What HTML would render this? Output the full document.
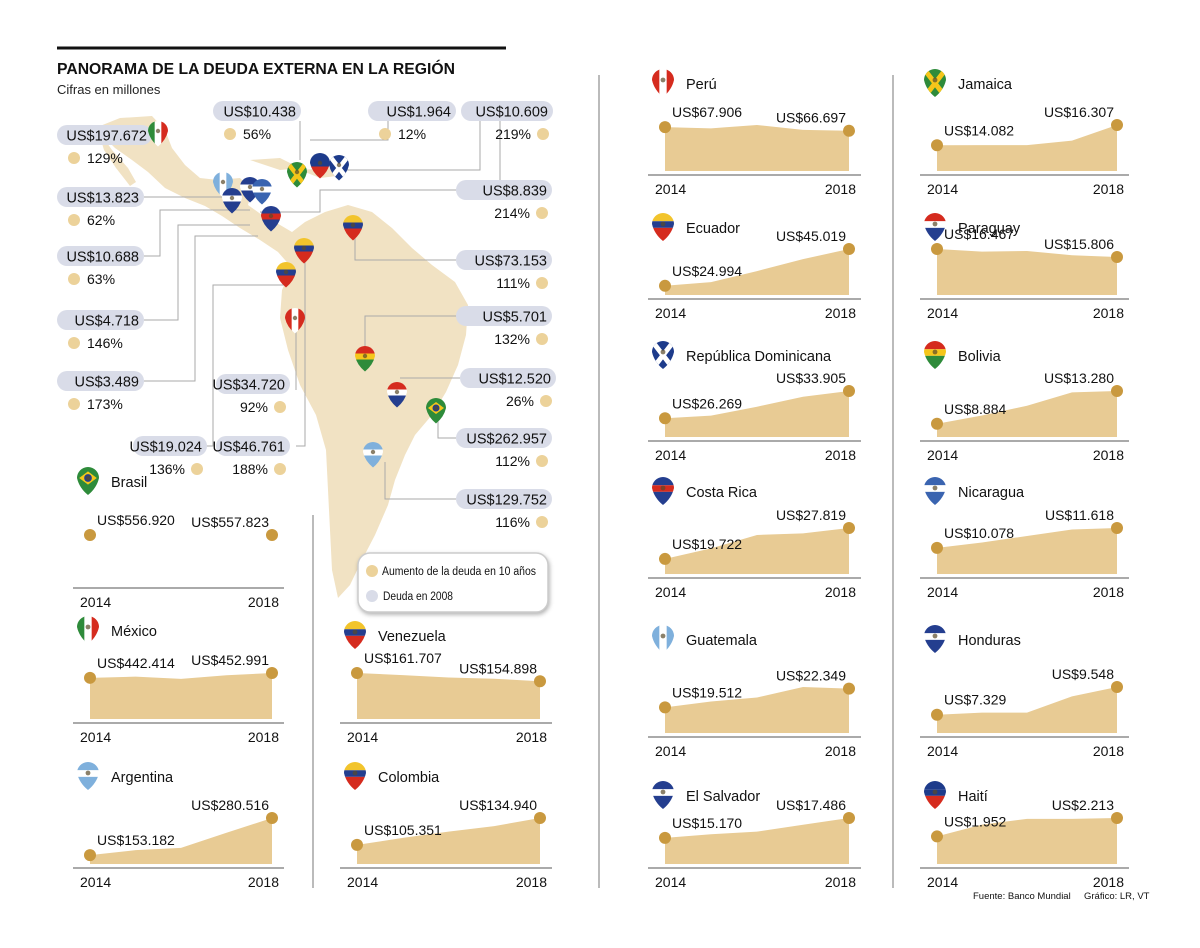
<!DOCTYPE html>
<html><head><meta charset="utf-8">
<style>
body{margin:0;background:#fff;}
svg text{font-family:"Liberation Sans",sans-serif;}
</style></head>
<body>
<svg id="root" width="1200" height="943" viewBox="0 0 1200 943" xmlns="http://www.w3.org/2000/svg">
<rect x="0" y="0" width="1200" height="943" fill="#fff"/>
<line x1="57" y1="48" x2="506" y2="48" stroke="#111" stroke-width="3"/>
<text x="57" y="74" font-size="16" font-weight="bold" fill="#111" textLength="398" lengthAdjust="spacingAndGlyphs">PANORAMA DE LA DEUDA EXTERNA EN LA REGIÓN</text>
<text x="57" y="94" font-size="13" fill="#222">Cifras en millones</text>
<g id="map">
<path fill="#f1e2c3" d="M95,128 L120,118 L152,116 L165,130 L172,148 L185,165 L200,178 L218,180 L240,178 L252,190 L248,205 L262,215 L275,222 L292,232 L305,222 L325,212 L348,205 L372,212 L392,228 L412,248 L432,265 L455,282 L468,305 L466,335 L458,365 L446,392 L432,415 L415,435 L405,455 L395,480 L388,505 L375,535 L362,560 L350,585 L338,598 L332,570 L330,530 L328,490 L326,450 L316,415 L300,385 L288,350 L280,318 L282,290 L292,268 L278,252 L260,240 L240,228 L222,216 L205,206 L185,198 L165,188 L148,172 L132,160 L115,148 Z"/>
<path fill="#f1e2c3" d="M98,130 L112,150 L128,168 L136,182 L130,186 L116,168 L104,150 Z"/>
<path fill="#f1e2c3" d="M250,160 L280,158 L300,168 L280,170 Z M300,170 L330,168 L345,175 L320,178 Z"/>
</g>
<g id="callouts"></g>
<g id="flags"></g>
<g id="panels"></g>
<line x1="599" y1="75" x2="599" y2="888" stroke="#777" stroke-width="1"/>
<line x1="893" y1="75" x2="893" y2="888" stroke="#777" stroke-width="1"/>
<line x1="313" y1="515" x2="313" y2="888" stroke="#777" stroke-width="1"/>
<g>
<rect x="358" y="553" width="190" height="59" rx="12" fill="#fff" stroke="#ccc" stroke-width="1.5" style="filter:drop-shadow(1px 2px 2px rgba(0,0,0,0.3))"/>
<circle cx="372" cy="571" r="6" fill="#ecd29a"/>
<text x="382" y="575" font-size="11.5" fill="#111" textLength="154" lengthAdjust="spacingAndGlyphs">Aumento de la deuda en 10 años</text>
<circle cx="372" cy="596" r="6" fill="#d9dce8"/>
<text x="383" y="600" font-size="11.5" fill="#111" textLength="70" lengthAdjust="spacingAndGlyphs">Deuda en 2008</text>
</g>
<text x="973" y="899" font-size="9.5" fill="#111">Fuente: Banco Mundial</text>
<text x="1084" y="899" font-size="9.5" fill="#111">Gráfico: LR, VT</text>
</svg>
<script>
const NS="http://www.w3.org/2000/svg";
function mk(tag,attrs,parent){const e=document.createElementNS(NS,tag);for(const k in attrs)e.setAttribute(k,attrs[k]);parent.appendChild(e);return e;}

// ---- Mini chart data ----
const years=["2014","2015","2016","2017","2018"];
const countries=["Perú","Ecuador","República Dominicana","Costa Rica","Guatemala","El Salvador","Jamaica","Paraguay","Bolivia","Nicaragua","Honduras","Haití","Brasil","México","Argentina","Venezuela","Colombia"];
const seriesPeru=[67.906,67.5,68.6,67.0,66.697];
const seriesEcuador=[24.994,27.0,33.0,39.5,45.019];
const seriesRepDom=[26.269,27.0,29.5,32.3,33.905];
const seriesCostaRica=[19.722,22.5,26.0,26.4,27.819];
const seriesGuatemala=[19.512,20.4,21.0,22.6,22.349];
const seriesElSalvador=[15.170,15.6,15.9,16.7,17.486];
const seriesJamaica=[14.082,14.1,14.1,14.6,16.307];
const seriesParaguay=[16.467,16.25,16.3,15.95,15.806];
const seriesBolivia=[8.884,10.0,11.3,13.1,13.280];
const seriesNicaragua=[10.078,10.5,11.0,11.5,11.618];
const seriesHonduras=[7.329,7.5,7.5,8.8,9.548];
const seriesHaiti=[1.952,2.12,2.2,2.2,2.213];
const seriesBrasil=[556.920,null,null,null,557.823];
const seriesMexico=[442.414,445,440,448,452.991];
const seriesArgentina=[153.182,170,178,230,280.516];
const seriesVenezuela=[161.707,160,158,157,154.898];
const seriesColombia=[105.351,113,120,126,134.940];
const firstLabels=["US$67.906","US$24.994","US$26.269","US$19.722","US$19.512","US$15.170","US$14.082","US$16.467","US$8.884","US$10.078","US$7.329","US$1.952","US$556.920","US$442.414","US$153.182","US$161.707","US$105.351"];
const lastLabels=["US$66.697","US$45.019","US$33.905","US$27.819","US$22.349","US$17.486","US$16.307","US$15.806","US$13.280","US$11.618","US$9.548","US$2.213","US$557.823","US$452.991","US$280.516","US$154.898","US$134.940"];
const allSeries=[seriesPeru,seriesEcuador,seriesRepDom,seriesCostaRica,seriesGuatemala,seriesElSalvador,seriesJamaica,seriesParaguay,seriesBolivia,seriesNicaragua,seriesHonduras,seriesHaiti,seriesBrasil,seriesMexico,seriesArgentina,seriesVenezuela,seriesColombia];

// layout (not data): panel geometry
const layout=[
 [665,849,84,175],[665,849,228,299],[665,849,356,441],[665,849,492,578],[665,849,640,737],[665,849,796,868],
 [937,1117,84,175],[937,1117,228,299],[937,1117,356,441],[937,1117,492,578],[937,1117,640,737],[937,1117,796,868],
 [90,272,482,588],[90,272,631,723],[90,272,777,868],
 [357,540,636,723],[357,540,777,868]];
const flagColors={"Perú":["#d52b1e","#fff","#d52b1e","v"],"Ecuador":["#f2c42c","#243e8f","#d52b1e","h"],"República Dominicana":["#1d3b8b","#fff","#d52b1e","x"],"Costa Rica":["#243e8f","#d52b1e","#243e8f","h"],"Guatemala":["#7fb0dc","#fff","#7fb0dc","v"],"El Salvador":["#243e8f","#fff","#243e8f","h"],"Jamaica":["#2e8b3a","#f5c61a","#111","x"],"Paraguay":["#d52b1e","#fff","#243e8f","h"],"Bolivia":["#d52b1e","#f5c61a","#2e8b3a","h"],"Nicaragua":["#3a64b0","#fff","#3a64b0","h"],"Honduras":["#243e8f","#fff","#243e8f","h"],"Haití":["#1d3b8b","#1d3b8b","#d52b1e","h"],"Brasil":["#2e8b3a","#f5c61a","#2e8b3a","b"],"México":["#2e8b3a","#fff","#d52b1e","v"],"Argentina":["#7fb0dc","#fff","#7fb0dc","h"],"Venezuela":["#f2c42c","#243e8f","#d52b1e","h"],"Colombia":["#f2c42c","#243e8f","#d52b1e","h"]};

let clipId=0;
function drawFlag(parent,cx,cy,name,r){
  r=r||11;
  const c=flagColors[name]||["#888","#fff","#888","h"];
  const g=mk("g",{},parent);
  
  
  const id="cp"+(clipId++);
  const cp=mk("clipPath",{id:id},g);
  mk("path",{d:`M${cx-r},${cy} A${r},${r} 0 1 1 ${cx+r},${cy} Q${cx+r*0.8},${cy+r*0.9} ${cx},${cy+r*1.55} Q${cx-r*0.8},${cy+r*0.9} ${cx-r},${cy} Z`},cp);
  const gg=mk("g",{"clip-path":`url(#${id})`},g);
  const t=cy-r, h=r*2.6, w=r*2;
  if(c[3]==="v"){
    mk("rect",{x:cx-r,y:t,width:w/3+0.5,height:h,fill:c[0]},gg);
    mk("rect",{x:cx-r+w/3,y:t,width:w/3+0.5,height:h,fill:c[1]},gg);
    mk("rect",{x:cx-r+2*w/3,y:t,width:w/3,height:h,fill:c[2]},gg);
  } else if(c[3]==="b"){
    mk("rect",{x:cx-r,y:t,width:w,height:h,fill:c[0]},gg);
    mk("path",{d:`M${cx-r*0.8},${cy} L${cx},${cy-r*0.6} L${cx+r*0.8},${cy} L${cx},${cy+r*0.6} Z`,fill:c[1]},gg);
    mk("circle",{cx:cx,cy:cy,r:r*0.35,fill:"#243e8f"},gg);
  } else if(c[3]==="x"){
    mk("rect",{x:cx-r,y:t,width:w,height:h,fill:c[0]},gg);
    mk("path",{d:`M${cx-r},${t} L${cx+r},${t+h} M${cx+r},${t} L${cx-r},${t+h}`,stroke:c[1],"stroke-width":r*0.45},gg);
  } else {
    mk("rect",{x:cx-r,y:t,width:w,height:r*0.75,fill:c[0]},gg);
    mk("rect",{x:cx-r,y:t+r*0.75,width:w,height:r*0.6,fill:c[1]},gg);
    mk("rect",{x:cx-r,y:t+r*1.35,width:w,height:h,fill:c[2]},gg);
  }
  mk("circle",{cx:cx,cy:cy,r:r*0.22,fill:"#5a4a2a",opacity:0.7},gg);
}

const panels=document.getElementById('panels');
countries.forEach((name,i)=>{
  const [x0,x1,ty,ay]=layout[i];
  const vals=allSeries[i];
  const g=mk("g",{},panels);
  
  
  drawFlag(g,x0-2,ty-4,name,11);
  const tt=mk("text",{x:x0+21,y:ty+5,"font-size":14.5,fill:"#111"},g);
  tt.textContent=name;
  
  
  const ax=mk("line",{x1:x0-17,y1:ay,x2:x1+12,y2:ay,stroke:"#777","stroke-width":1.2},g);
  
  
  const y1t=mk("text",{x:x0-10,y:ay+19,"font-size":14,fill:"#111"},g);
  y1t.textContent=years[0];
  
  
  const y2t=mk("text",{x:x1+7,y:ay+19,"font-size":14,fill:"#111","text-anchor":"end"},g);
  y2t.textContent=years[years.length-1];
  
  
  const valid=vals.filter(v=>v!==null);
  const mn=Math.min(...valid), mx=Math.max(...valid);
  const bottom=ay-4, H=46;
  const lo=mn*0.8, hi=mx;
  const xs=k=>x0+(x1-x0)*k/(vals.length-1);
  const ys=v=>bottom-(v-lo)/(hi-lo)*H;
  let yFirst, yLast;
  if(vals.every(v=>v!==null)){
    let d=`M${xs(0)},${bottom}`;
    vals.forEach((v,k)=>{d+=` L${xs(k)},${ys(v)}`;});
    d+=` L${xs(vals.length-1)},${bottom} Z`;
    const ar=mk("path",{d:d,fill:"#e8cb94"},g);
    
    
    yFirst=ys(vals[0]); yLast=ys(vals[vals.length-1]);
  } else {
    yFirst=ay-53; yLast=ay-53;
  }
  const d1=mk("circle",{cx:xs(0),cy:yFirst,r:6,fill:"#c9993f"},g);
  
  
  const d2=mk("circle",{cx:xs(vals.length-1),cy:yLast,r:6,fill:"#c9993f"},g);
  
  
  const l1=mk("text",{x:x0+7,y:yFirst-10,"font-size":14,fill:"#111"},g);
  l1.textContent=firstLabels[i];
  
  
  const l2=mk("text",{x:x1-3,y:yLast-8,"font-size":14,fill:"#111","text-anchor":"end"},g);
  l2.textContent=lastLabels[i];
  
  
});

// ---- Map callouts ----
const calloutValues=["US$197.672","US$10.438","US$1.964","US$10.609","US$13.823","US$8.839","US$10.688","US$73.153","US$4.718","US$5.701","US$3.489","US$34.720","US$12.520","US$19.024","US$46.761","US$262.957","US$129.752"];
const calloutPcts=["129%","56%","12%","219%","62%","214%","63%","111%","146%","132%","173%","92%","26%","136%","188%","112%","116%"];
const calloutPos=[[57,125,95,"L"],[213,101,88,"L"],[368,101,88,"L"],[461,101,92,"R"],[57,187,87,"L"],[456,180,96,"R"],[57,246,87,"L"],[456,250,96,"R"],[57,310,87,"L"],[456,306,96,"R"],[57,371,87,"L"],[216,374,74,"R"],[460,368,96,"R"],[133,436,74,"R"],[216,436,74,"R"],[456,428,96,"R"],[456,489,96,"R"]];
const leaders=["M500,120 L500,190 L330,190","M300,121 L300,160","M388,121 L388,140 L310,140","M480,121 L480,170 L340,170","M144,197 L230,197","M456,190 L320,190 L320,212 L260,212","M144,256 L160,256 L160,210 L250,210","M456,260 L355,260 L355,225","M144,320 L178,320 L178,225 L250,225","M456,316 L365,316 L365,355","M144,381 L195,381 L195,236 L258,236","M296,390 L296,330","M460,378 L400,378","M205,446 L213,446 L213,285 L285,285","M296,446 L305,446 L305,255","M456,438 L438,438 L438,412","M456,499 L385,499 L385,462"];
const co=document.getElementById('callouts');
leaders.forEach(d=>{
  const p=mk("path",{d:d,fill:"none",stroke:"#aaa","stroke-width":1},co);
  
  
});
calloutValues.forEach((v,i)=>{
  const [px,py,pw,side]=calloutPos[i];
  const g=mk("g",{},co);
  
  
  const r=mk("rect",{x:px,y:py,width:pw,height:20,rx:10,fill:"#d9dce8"},g);
  
  
  const t=mk("text",{x:px+pw-5,y:py+15.5,"font-size":14.5,fill:"#111","text-anchor":"end"},g);
  t.textContent=v;
  
  
  let dx,tx,anchor;
  if(side==="L"){dx=px+17;tx=px+30;anchor="start";}else{dx=px+pw-10;tx=px+pw-22;anchor="end";}
  const c=mk("circle",{cx:dx,cy:py+33,r:6,fill:"#ecd29a"},g);
  
  
  const pt=mk("text",{x:tx,y:py+38,"font-size":14,fill:"#111","text-anchor":anchor},g);
  pt.textContent=calloutPcts[i];
  
  
});
const mapFlagNames=["México","Jamaica","Haití","República Dominicana","Guatemala","El Salvador","Honduras","Nicaragua","Costa Rica","Venezuela","Colombia","Ecuador","Perú","Bolivia","Paraguay","Brasil","Argentina"];
const mapFlagPos=[[158,131],[297,172],[320,163],[339,165],[223,182],[232,198],[250,187],[262,189],[271,216],[353,225],[304,248],[286,272],[295,318],[365,356],[397,392],[436,408],[373,452]];
const fl=document.getElementById('flags');
mapFlagNames.forEach((n,i)=>drawFlag(fl,mapFlagPos[i][0],mapFlagPos[i][1],n,10));
</script>
</body></html>
